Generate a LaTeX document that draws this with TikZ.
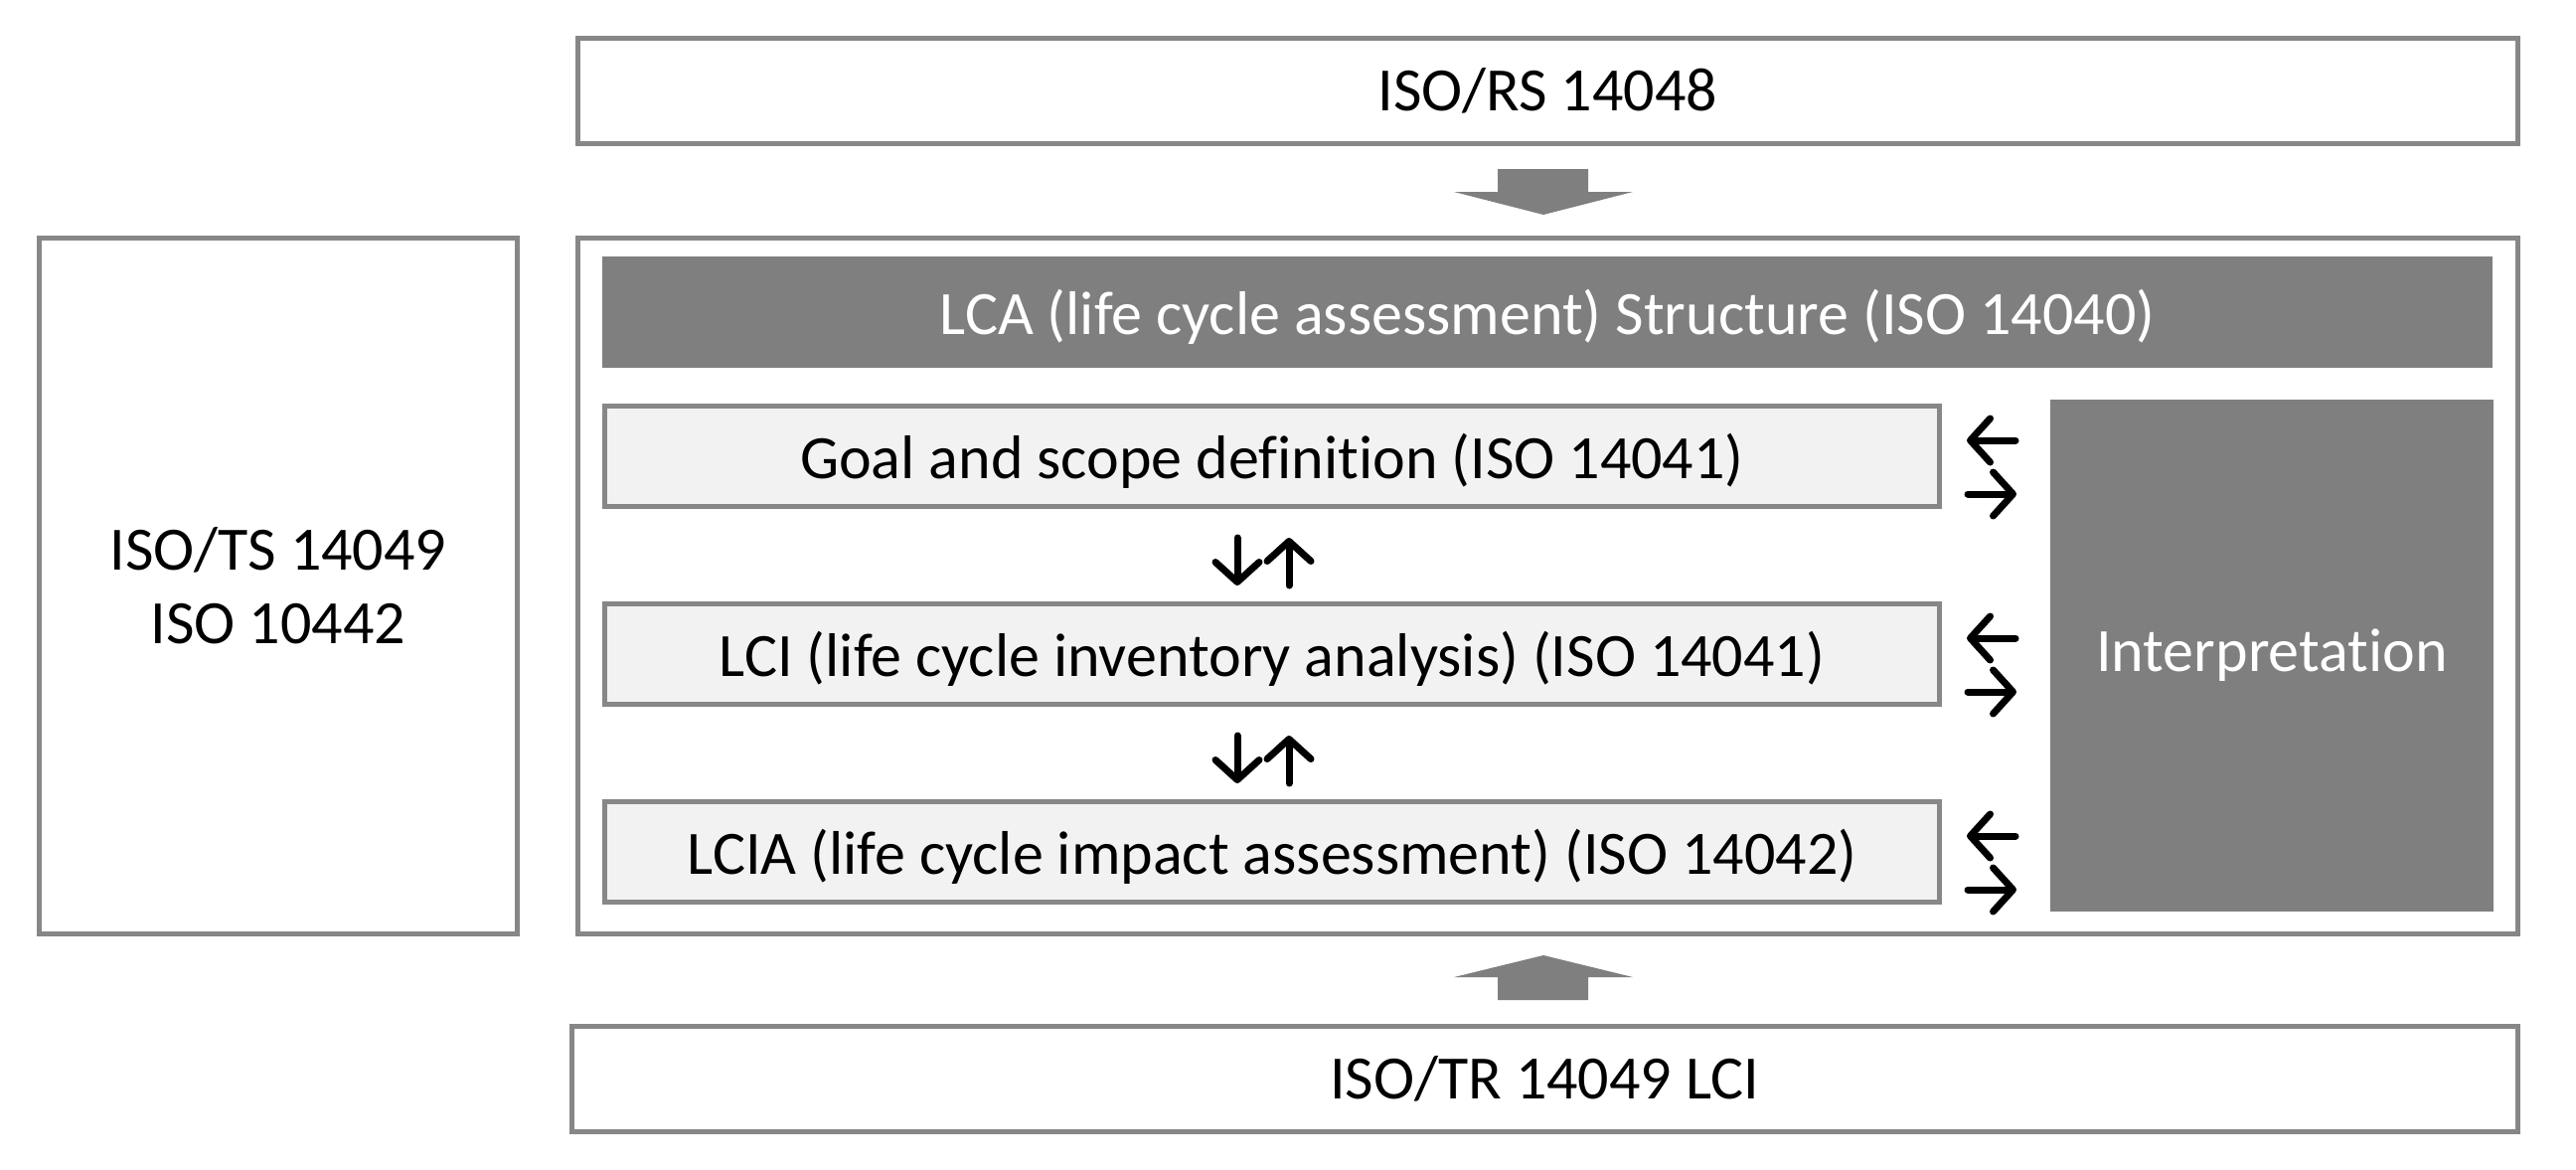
\documentclass[tikz,border=0pt]{standalone}
\usepackage{fontspec}
\setmainfont{Carlito}[Ligatures=NoCommon]
\usetikzlibrary{arrows.meta}
\definecolor{framegray}{HTML}{878787}
\definecolor{darkfill}{HTML}{7F7F7F}
\definecolor{lightfill}{HTML}{F2F2F2}
\newcommand{\lowertext}[1]{\raisebox{-5pt}[\height][\depth]{#1}}
\tikzset{
  every node/.style={inner sep=0pt, outer sep=0pt, font=\fontsize{62}{74}\selectfont, align=center},
  framebox/.style={draw=framegray, line width=5pt, fill=white, rectangle},
  stagebox/.style={draw=framegray, line width=4.5pt, fill=lightfill, rectangle},
  darkbox/.style={fill=darkfill, text=white, rectangle},
  blockarrow/.style={fill=darkfill, draw=none},
  smallarrow/.style={draw=black, line width=7pt, line cap=round,
    -{Straight Barb[length=20pt, width=44pt, line cap=round, line join=round]}}
}
\begin{document}
\begin{tikzpicture}[x=1pt, y=-1pt]
\useasboundingbox (0,0) rectangle (2592,1176);

% outer boxes
\node[framebox, minimum width=1951.5pt, minimum height=106pt] (topbox) at (1557.25,91.5) {ISO/RS 14048};
\node[framebox, minimum width=1951.5pt, minimum height=700pt] (main) at (1557.25,589.5) {};
\node[framebox, minimum width=481pt, minimum height=700pt] (leftbox) at (280,589.5) {ISO/TS 14049\\ISO 10442};
\node[framebox, minimum width=1957.5pt, minimum height=106pt] (bottombox) at (1554.25,1085.5) {ISO/TR 14049 LCI};

% inner
\node[darkbox, minimum width=1902pt, minimum height=112pt] (header) at (1557,314) {\lowertext{LCA (life cycle assessment) Structure (ISO 14040)}};
\node[stagebox, minimum width=1343pt, minimum height=101pt] (goal) at (1280,459) {\lowertext{Goal and scope definition (ISO 14041)}};
\node[stagebox, minimum width=1343pt, minimum height=101pt] (lci) at (1280,658) {\lowertext{LCI (life cycle inventory analysis) (ISO 14041)}};
\node[stagebox, minimum width=1343pt, minimum height=101pt] (lcia) at (1280,857) {\lowertext{LCIA (life cycle impact assessment) (ISO 14042)}};
\node[darkbox, minimum width=446pt, minimum height=515pt] (interp) at (2286,659.5) {Interpretation};

% block arrows
\fill[blockarrow] (1507,170) -- (1598,170) -- (1598,193) -- (1643,193) -- (1553,216) -- (1463,193) -- (1507,193) -- cycle;
\fill[blockarrow] (1507,1006) -- (1598,1006) -- (1598,983) -- (1643,983) -- (1553,961) -- (1463,983) -- (1507,983) -- cycle;

% small vertical arrows
\coordinate (d1a) at (1245,541); \coordinate (d1b) at (1245,589);
\coordinate (u1a) at (1297,589); \coordinate (u1b) at (1297,541);
\coordinate (d2a) at (1245,740); \coordinate (d2b) at (1245,788);
\coordinate (u2a) at (1297,788); \coordinate (u2b) at (1297,740);
\draw[smallarrow] (d1a) -- (d1b);
\draw[smallarrow] (u1a) -- (u1b);
\draw[smallarrow] (d2a) -- (d2b);
\draw[smallarrow] (u2a) -- (u2b);

% small horizontal arrows
\foreach \n/\cy in {g/459, i/658, a/857}{
  \coordinate (\n la) at (2028,\cy-16); \coordinate (\n lb) at (1979,\cy-16);
  \coordinate (\n ra) at (1980,\cy+38); \coordinate (\n rb) at (2029,\cy+38);
  \draw[smallarrow] (\n la) -- (\n lb);
  \draw[smallarrow] (\n ra) -- (\n rb);
}
\end{tikzpicture}
\end{document}
